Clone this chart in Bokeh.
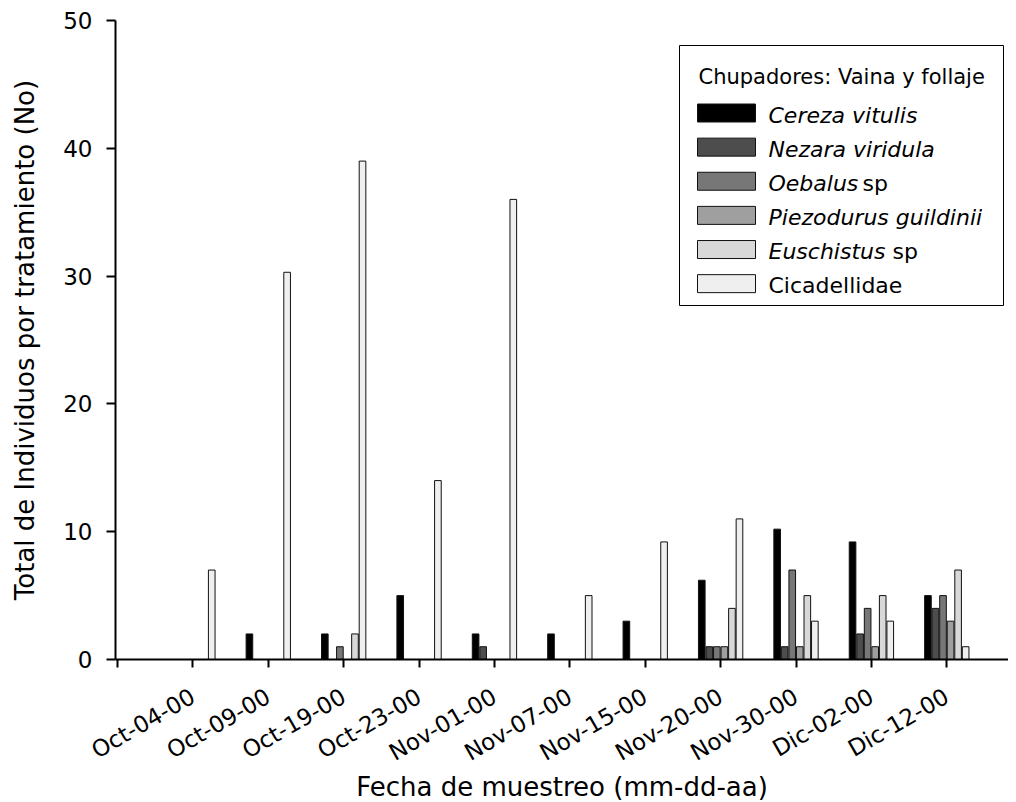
import math
from bokeh.plotting import figure
from bokeh.models import FixedTicker, Range1d, BoxAnnotation, Label, ColumnDataSource
from bokeh.embed import file_html
from bokeh.resources import INLINE

# ---------------- data ----------------
dates = ["Oct-04-00", "Oct-09-00", "Oct-19-00", "Oct-23-00", "Nov-01-00", "Nov-07-00",
         "Nov-15-00", "Nov-20-00", "Nov-30-00", "Dic-02-00", "Dic-12-00"]
cereza = [0, 2, 2, 5, 2, 2, 3, 6.2, 10.2, 9.2, 5]
nezara = [0, 0, 0, 0, 1, 0, 0, 1, 1, 2, 4]
oebalus = [0, 0, 1, 0, 0, 0, 0, 1, 7, 4, 5]
piezodurus = [0, 0, 0, 0, 0, 0, 0, 1, 1, 1, 3]
euschistus = [0, 0, 2, 0, 0, 0, 0, 4, 5, 5, 7]
cicadellidae = [7, 30.3, 39, 14, 36, 5, 9.2, 11, 3, 3, 1]

series = [cereza, nezara, oebalus, piezodurus, euschistus, cicadellidae]
colors = ["#000000", "#4d4d4d", "#777777", "#9f9f9f", "#d8d8d8", "#efefef"]
legend_title = "Chupadores: Vaina y follaje"
# legend labels: list of (text, font_style) parts
legend_parts = [
    [("Cereza vitulis", "italic")],
    [("Nezara viridula", "italic")],
    [("Oebalus", "italic"), ("sp", "normal")],
    [("Piezodurus guildinii", "italic")],
    [("Euschistus", "italic"), ("sp", "normal")],
    [("Cicadellidae", "normal")],
]

FONT = "DejaVu Sans"

# ---------------- layout ----------------
FL, FT, FW, FH = 115, 20, 893, 639
PX_PER_UNIT = 75.39
x_start = -(117 - FL) / PX_PER_UNIT
x_end = x_start + FW / PX_PER_UNIT
y_start, y_end = 0, 50


def xd(px):
    return x_start + (px - FL) / PX_PER_UNIT


def yd(py):
    return y_end - (py - FT) * (y_end - y_start) / FH


p = figure(frame_width=FW, frame_height=FH, output_backend="svg", toolbar_location=None,
           x_range=Range1d(x_start, x_end), y_range=Range1d(y_start, y_end),
           min_border_left=FL, min_border_top=FT, min_border_right=0,
           min_border_bottom=120)
p.outline_line_color = None
p.grid.grid_line_color = None
p.background_fill_color = "white"

bar_w = 0.1
for k, vals in enumerate(series):
    xs, tops = [], []
    for i, v in enumerate(vals):
        if v > 0:
            xs.append(i + 1 + (k - 2.5) * bar_w)
            tops.append(v)
    src = ColumnDataSource(dict(x=xs, top=tops))
    p.vbar(x="x", top="top", bottom=0, width=bar_w * 0.88, source=src,
           fill_color=colors[k], line_color="#111111", line_width=1)

# axes
p.xaxis.ticker = FixedTicker(ticks=list(range(0, len(dates) + 1)))
p.xaxis.major_label_overrides = {0: ""} | {i + 1: d for i, d in enumerate(dates)}
p.xaxis.major_label_orientation = math.pi / 6
p.yaxis.ticker = FixedTicker(ticks=[0, 10, 20, 30, 40, 50])

for ax in (p.xaxis, p.yaxis):
    ax.axis_line_width = 2
    ax.axis_line_color = "black"
    ax.major_tick_line_width = 2
    ax.major_tick_line_color = "black"
    ax.major_tick_in = 0
    ax.minor_tick_line_color = None
    ax.major_label_text_font = FONT
    ax.major_label_text_color = "black"
    ax.axis_label_text_font = FONT
    ax.axis_label_text_font_style = "normal"
    ax.axis_label_text_color = "black"
    ax.axis_label_text_font_size = "26px"

p.xaxis.major_tick_out = 8
p.yaxis.major_tick_out = 9
p.xaxis.major_label_text_font_size = "23px"
p.yaxis.major_label_text_font_size = "23px"
p.yaxis.major_label_standoff = 14
p.xaxis.major_label_standoff = 27
p.xaxis.axis_label = "Fecha de muestreo (mm-dd-aa)"
p.yaxis.axis_label = "Total de Individuos por tratamiento (No)"
p.xaxis.axis_label_standoff = -8
p.yaxis.axis_label_standoff = 20

# ---------------- legend (manual, mixed italic) ----------------
LEG_L, LEG_T, LEG_R, LEG_B = 679, 45, 1003, 305
p.add_layout(BoxAnnotation(left=xd(LEG_L), right=xd(LEG_R), top=yd(LEG_T), bottom=yd(LEG_B),
                           fill_color="white", fill_alpha=1, line_color="black",
                           line_alpha=1, line_width=1, level="overlay"))
p.add_layout(Label(x=xd(698), y=yd(76), text=legend_title, text_font=FONT,
                   text_font_size="21px", text_color="black", text_baseline="alphabetic",
                   level="overlay"))
row0, row_step = 112.5, 34.13
sp_x = {2: 862, 4: 892}
for k, parts in enumerate(legend_parts):
    cy = row0 + k * row_step
    p.add_layout(BoxAnnotation(left=xd(697), right=xd(755), top=yd(cy - 9), bottom=yd(cy + 9),
                               fill_color=colors[k], fill_alpha=1, line_color="#111111",
                               line_alpha=1, line_width=1, level="overlay"))
    for j, (txt, style) in enumerate(parts):
        tx = 768 if j == 0 else sp_x[k]
        p.add_layout(Label(x=xd(tx), y=yd(cy + 2), text=txt, text_font=FONT,
                           text_font_style=style, text_font_size="22px", text_color="black",
                           text_baseline="alphabetic", level="overlay"))

open("out.html", "w").write(file_html(p, INLINE))
